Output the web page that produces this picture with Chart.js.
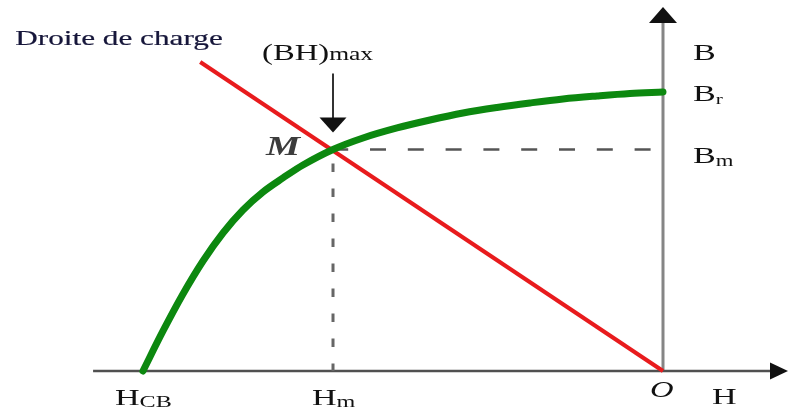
<!DOCTYPE html>
<html>
<head>
<meta charset="utf-8">
<script src="https://cdn.jsdelivr.net/npm/chart.js@4"></script>
<style>
  html, body { margin: 0; padding: 0; background: #ffffff; }
  #wrap { position: relative; width: 788px; height: 412px; }
</style>
</head>
<body>
<div id="wrap"><canvas id="c"></canvas></div>
<script>
// ---- Data (normalised units: H_CB = -1, B_r = 1) ----
const curveH = [-1.000, -0.9615, -0.9231, -0.8846, -0.8462, -0.8077, -0.7692, -0.7308, -0.6923, -0.6346, -0.5769, -0.5115, -0.4481, -0.3846, -0.3192, -0.2558, -0.1923, -0.1269, -0.0635, 0.000];
const curveB = [0.000, 0.1434, 0.2760, 0.3943, 0.4946, 0.5771, 0.6416, 0.6918, 0.7384, 0.7939, 0.8351, 0.8710, 0.8996, 0.9247, 0.9445, 0.9606, 0.9749, 0.9857, 0.9946, 1.000];
const loadH = [-0.890, 0.000];
const loadB = [1.1075, 0.000];
const pointH = [-1.000, -0.6346, 0.000];  // H_CB, H_m, O
const pointB = [1.000, 0.7939];           // B_r, B_m
const axisH = [-1.096, 0.2058];           // horizontal axis extent
const axisB = [0.000, 1.247];             // vertical axis extent
const range = { xmin: -1.275, xmax: 0.2404, ymin: -0.147, ymax: 1.3297 };
const texts = {
  load: 'Droite de charge', bh: '(BH)', bhSub: 'max', M: 'M',
  B: 'B', Br: 'B', BrSub: 'r', Bm: 'B', BmSub: 'm',
  Hcb: 'H', HcbSub: 'CB', Hm: 'H', HmSub: 'm', O: 'O', H: 'H'
};

const Hcb = pointH[0], Hm = pointH[1], H0 = pointH[2];
const Br = pointB[0], Bm = pointB[1];

const zip = (xs, ys) => xs.map((x, i) => ({ x: x, y: ys[i] }));

const SERIF = "'Liberation Serif', 'Times New Roman', serif";
const SX = 1.42;

function txt(ctx, s, x, y, size, style, color, strokeW) {
  ctx.save();
  ctx.font = (style ? style + ' ' : '') + size + 'px ' + SERIF;
  ctx.fillStyle = color || '#111';
  ctx.textBaseline = 'alphabetic';
  ctx.textAlign = 'left';
  ctx.translate(x, y);
  ctx.scale(SX, 1);
  ctx.fillText(s, 0, 0);
  if (strokeW) {
    ctx.strokeStyle = color || '#111';
    ctx.lineWidth = strokeW;
    ctx.strokeText(s, 0, 0);
  }
  const w = ctx.measureText(s).width * SX;
  ctx.restore();
  return w;
}
function tri(ctx, pts, color) {
  ctx.save();
  ctx.fillStyle = color;
  ctx.beginPath();
  ctx.moveTo(pts[0][0], pts[0][1]);
  ctx.lineTo(pts[1][0], pts[1][1]);
  ctx.lineTo(pts[2][0], pts[2][1]);
  ctx.closePath();
  ctx.fill();
  ctx.restore();
}

const decor = {
  id: 'decor',
  afterDatasetsDraw(chart) {
    const ctx = chart.ctx;
    const xs = chart.scales.x, ys = chart.scales.y;
    const X = v => xs.getPixelForValue(v), Y = v => ys.getPixelForValue(v);
    const px0 = X(H0), py0 = Y(0);
    const pxHm = X(Hm), pyBm = Y(Bm), pyBr = Y(Br), pxHcb = X(Hcb);
    const yTopBase = Y(axisB[1]);
    const xRightBase = X(axisH[1]);

    // axis arrowheads
    tri(ctx, [[px0, yTopBase - 16], [px0 - 14, yTopBase], [px0 + 14, yTopBase]], '#111');
    tri(ctx, [[xRightBase + 18, py0], [xRightBase, py0 - 8.5], [xRightBase, py0 + 8.5]], '#111');

    // (BH)max arrow
    const tip = pyBm - 17;
    ctx.save();
    ctx.strokeStyle = '#333';
    ctx.lineWidth = 2;
    ctx.beginPath();
    ctx.moveTo(pxHm, pyBm - 76);
    ctx.lineTo(pxHm, tip - 14);
    ctx.stroke();
    ctx.restore();
    tri(ctx, [[pxHm, tip], [pxHm - 13.5, tip - 15], [pxHm + 13.5, tip - 15]], '#111');

    // labels
    const X1 = X(loadH[0]), Y1 = Y(loadB[0]);
    txt(ctx, texts.load, X1 - 185, Y1 - 17, 22, '', '#16163a', 0.2);
    let w = txt(ctx, texts.bh, pxHm - 71, pyBm - 89, 23, '', '#111');
    txt(ctx, texts.bhSub, pxHm - 71 + w, pyBm - 89, 18, '', '#111');
    // M (right aligned)
    ctx.save();
    ctx.font = 'italic bold 27px ' + SERIF;
    const mw = ctx.measureText(texts.M).width * SX;
    ctx.restore();
    txt(ctx, texts.M, pxHm - 33 - mw, pyBm + 6, 27, 'italic bold', '#3c3c3c');

    txt(ctx, texts.B, px0 + 30, yTopBase + 37, 24, '', '#111');
    w = txt(ctx, texts.Br, px0 + 30, pyBr + 9, 24, '', '#111');
    txt(ctx, texts.BrSub, px0 + 30 + w, pyBr + 12, 15, '', '#111');
    w = txt(ctx, texts.Bm, px0 + 30, pyBm + 14, 24, '', '#111');
    txt(ctx, texts.BmSub, px0 + 30 + w, pyBm + 17, 16, '', '#111');

    w = txt(ctx, texts.Hcb, pxHcb - 28, py0 + 34, 24, '', '#111');
    txt(ctx, texts.HcbSub, pxHcb - 28 + w, py0 + 36, 17, '', '#111');
    w = txt(ctx, texts.Hm, pxHm - 21, py0 + 34, 24, '', '#111');
    txt(ctx, texts.HmSub, pxHm - 21 + w, py0 + 36, 17, '', '#111');
    txt(ctx, texts.O, px0 - 13, py0 + 26, 23, 'italic', '#111');
    txt(ctx, texts.H, px0 + 49, py0 + 33, 24, '', '#111');
  }
};

new Chart(document.getElementById('c'), {
  type: 'scatter',
  data: {
    datasets: [
      { label: 'B(H)', data: zip(curveH, curveB), showLine: true, borderColor: '#0c880f', borderWidth: 7,
        pointRadius: 0, tension: 0.35, borderCapStyle: 'round', borderJoinStyle: 'round', order: 0 },
      { label: 'Droite de charge', data: zip(loadH, loadB), showLine: true, borderColor: '#e81b1d', borderWidth: 4,
        pointRadius: 0, order: 1 },
      { label: 'Bm', data: [{ x: Hm, y: Bm }, { x: H0, y: Bm }], showLine: true, borderColor: '#555', borderWidth: 2.5,
        borderDash: [16, 21.8], borderDashOffset: 0.8, pointRadius: 0, order: 2 },
      { label: 'Hm', data: [{ x: Hm, y: Bm }, { x: Hm, y: 0 }], showLine: true, borderColor: '#666', borderWidth: 3,
        borderDash: [8.5, 16.5], borderDashOffset: 11, pointRadius: 0, order: 2 },
      { label: 'H axis', data: [{ x: axisH[0], y: 0 }, { x: axisH[1], y: 0 }], showLine: true, borderColor: '#505050',
        borderWidth: 2.5, pointRadius: 0, order: 3 },
      { label: 'B axis', data: [{ x: H0, y: axisB[0] }, { x: H0, y: axisB[1] }], showLine: true, borderColor: '#858585',
        borderWidth: 3, pointRadius: 0, order: 3 }
    ]
  },
  options: {
    responsive: true,
    maintainAspectRatio: false,
    animation: false,
    layout: { padding: 0 },
    plugins: { legend: { display: false }, tooltip: { enabled: false } },
    events: [],
    scales: {
      x: { type: 'linear', display: false, min: range.xmin, max: range.xmax },
      y: { type: 'linear', display: false, min: range.ymin, max: range.ymax }
    }
  },
  plugins: [decor]
});
</script>
</body>
</html>
